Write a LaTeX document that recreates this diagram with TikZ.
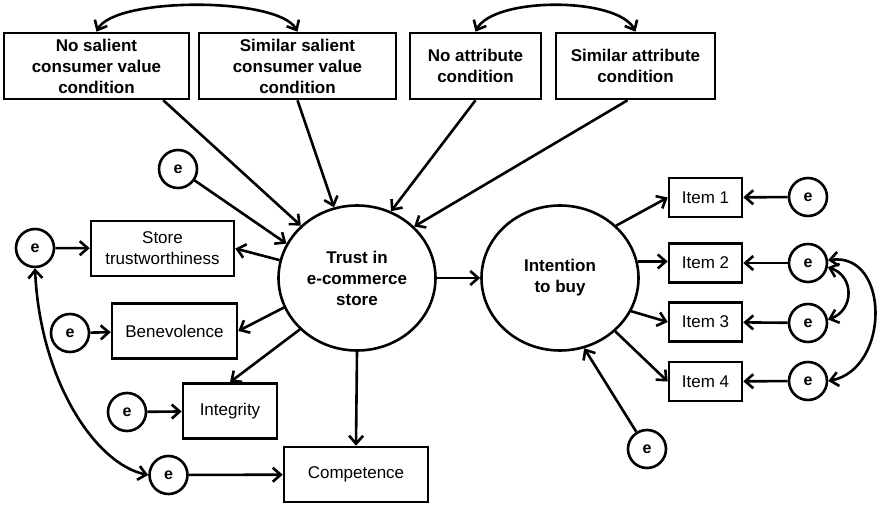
\documentclass[tikz,border=0pt]{standalone}
\usepackage{fontspec}
\setmainfont{Liberation Sans}
\usetikzlibrary{arrows.meta,shapes.geometric,calc}

\begin{document}
\begin{tikzpicture}[x=1pt,y=-1pt,
  line width=2.6pt,
  every node/.style={font=\fontsize{17}{21}\selectfont, align=center, inner sep=0pt},
  cond/.style={draw, minimum height=66pt, font=\fontsize{17}{21}\selectfont\bfseries},
  box/.style={draw, minimum height=55pt},
  item/.style={draw, minimum width=73pt, minimum height=39pt},
  latent/.style={draw, ellipse, minimum width=157pt, minimum height=145pt,
                 font=\fontsize{17}{21}\selectfont\bfseries},
  err/.style={draw, circle, minimum size=38pt, font=\fontsize{16}{16}\selectfont\bfseries},
  tip/.tip={Straight Barb[length=8pt,width=14pt]},
  path/.style={-tip},
  cov/.style={tip-tip},
]
\useasboundingbox (0,0) rectangle (879,505);

% experimental conditions
\node[cond, minimum width=185pt] (A) at (96.5,66) {No salient\\consumer value\\condition};
\node[cond, minimum width=197pt] (B) at (297.5,66) {Similar salient\\consumer value\\condition};
\node[cond, minimum width=131pt] (C) at (475.5,66) {No attribute\\condition};
\node[cond, minimum width=159pt] (D) at (635.5,66) {Similar attribute\\condition};

% latent constructs
\node[latent] (trust) at (357,278) {Trust in\\e-commerce\\store};
\node[latent] (int) at (560,278) {Intention\\to buy};

% trust indicators
\node[box, minimum width=143pt] (store) at (162.5,248.5) {Store\\trustworthiness};
\node[box, minimum width=125pt] (bene) at (174.5,331) {Benevolence};
\node[box, minimum width=94pt] (integ) at (230,411) {Integrity};
\node[box, minimum width=144pt] (comp) at (356,474.5) {Competence};

% intention indicators
\node[item] (it1) at (705.5,197.5) {Item 1};
\node[item] (it2) at (705.5,263) {Item 2};
\node[item] (it3) at (705.5,322) {Item 3};
\node[item] (it4) at (705.5,381.5) {Item 4};

% error terms
\node[err] (eT) at (178,169) {e};
\node[err] (eS) at (35,248) {e};
\node[err] (eB) at (70,333) {e};
\node[err] (eI) at (127,412) {e};
\node[err] (eC) at (168.5,475) {e};
\node[err] (eR1) at (808,197) {e};
\node[err] (eR2) at (808,263) {e};
\node[err] (eR3) at (808,323) {e};
\node[err] (eR4) at (808,381) {e};
\node[err] (eBot) at (647,449) {e};

% covariances between conditions
\draw[cov] (A.north) .. controls +(18,-35) and +(-19,-35) .. (B.north);
\draw[cov] (C.north) .. controls +(18,-35) and +(-18,-35) .. (D.north);

% conditions -> trust
\draw[path] ([xshift=-27pt]A.south east) -- (trust.137);
\draw[path] (B.south) -- (trust.108);
\draw[path] (C.south) -- (trust.63);
\draw[path] ([xshift=-8pt]D.south) -- (trust.42);
\draw[path] (eT) -- (trust.154);

% trust -> indicators
\draw[path] (trust.167) -- (store.east);
\draw[path] (trust.202) -- (bene.east);
\draw[path] (trust.222) -- (integ.north);
\draw[path] (trust.south) -- (comp.north);

% errors -> trust indicators
\draw[path] (eS) -- (store);
\draw[path] (eB) -- (bene);
\draw[path] (eI) -- (integ);
\draw[path] (eC) -- (comp);
\draw[cov] (eS.south) .. controls +(5,112) and +(-53,-11) .. (eC.west);

% trust -> intention
\draw[path] (trust.east) -- (int.west);
\draw[path] (eBot) -- (int.-71);

% intention -> items
\draw[path] (int.43) -- (it1.west);
\draw[path] (int.12) -- (int.12 -| it2.west);
\draw[path] (int.-25) -- (it3.west);
\draw[path] (int.-44) -- (it4.west);

% errors -> items
\draw[path] (eR1) -- (it1);
\draw[path] (eR2) -- (it2);
\draw[path] (eR3) -- (it3);
\draw[path] (eR4) -- (it4);
\draw[cov] (eR2.-12) .. controls +(27,9) and +(26,-9) .. (eR3.10);
\draw[cov] (eR2.8) .. controls +(62,-8) and +(62,-12) .. (eR4.east);
\end{tikzpicture}
\end{document}
